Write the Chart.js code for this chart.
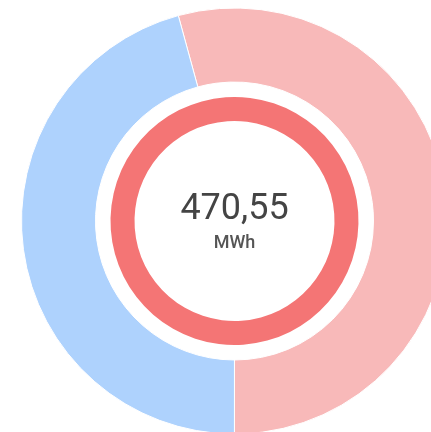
<!DOCTYPE html>
<html>
<head>
<meta charset="utf-8">
<script src="https://cdn.jsdelivr.net/npm/chart.js@4.4.1/dist/chart.umd.min.js"></script>
<style>
  html, body { margin: 0; padding: 0; background: #fff; overflow: hidden; }
  #wrap { position: relative; width: 469px; height: 442px; }
  #centerText {
    position: absolute; left: 0; top: 0; width: 469px; text-align: center;
    font-family: Roboto, sans-serif; pointer-events: none;
  }
  #total { position: absolute; left: 0; width: 469px; top: 187px; font-size: 36px; color: #444; line-height: 40px; }
  #unit { position: absolute; left: 0; width: 469px; top: 231px; font-size: 18px; font-weight: 500; color: #555; line-height: 22px; }
</style>
</head>
<body>
<div id="wrap">
  <canvas id="energyChart" width="469" height="442"></canvas>
  <div id="centerText">
    <div id="total"></div>
    <div id="unit"></div>
  </div>
</div>
<script>
// outer ring: two parts of the total, inner ring: the total itself
const labels = ['Bezug', 'Erzeugung'];
const outerValues = [255.3, 215.25];
const innerValues = [470.55];
const totalLabel = '470,55';
const unitLabel = 'MWh';

const outerColors = ['#f8b9b9', '#aed2fd'];
const innerColor = '#f47575';

document.getElementById('total').textContent = totalLabel;
document.getElementById('unit').textContent = unitLabel;

const ctx = document.getElementById('energyChart').getContext('2d');

new Chart(ctx, {
  type: 'doughnut',
  data: {
    labels: labels,
    datasets: [
      {
        data: outerValues,
        backgroundColor: outerColors,
        borderColor: '#ffffff',
        borderWidth: 1,
        hoverBorderWidth: 1,
        weight: 74,
      },
      {
        // white gap between the rings
        data: [1],
        backgroundColor: 'rgba(0,0,0,0)',
        borderWidth: 0,
        hoverBorderWidth: 0,
        weight: 15,
      },
      {
        data: innerValues,
        backgroundColor: [innerColor],
        borderWidth: 0,
        hoverBorderWidth: 0,
        weight: 24,
      },
    ],
  },
  options: {
    responsive: false,
    animation: false,
    rotation: -15.3,
    cutout: 100,
    layout: { padding: { top: 7.5, bottom: 7.5, left: 0, right: 0 } },
    plugins: {
      legend: { display: false },
      tooltip: { enabled: false },
    },
  },
});
</script>
</body>
</html>
